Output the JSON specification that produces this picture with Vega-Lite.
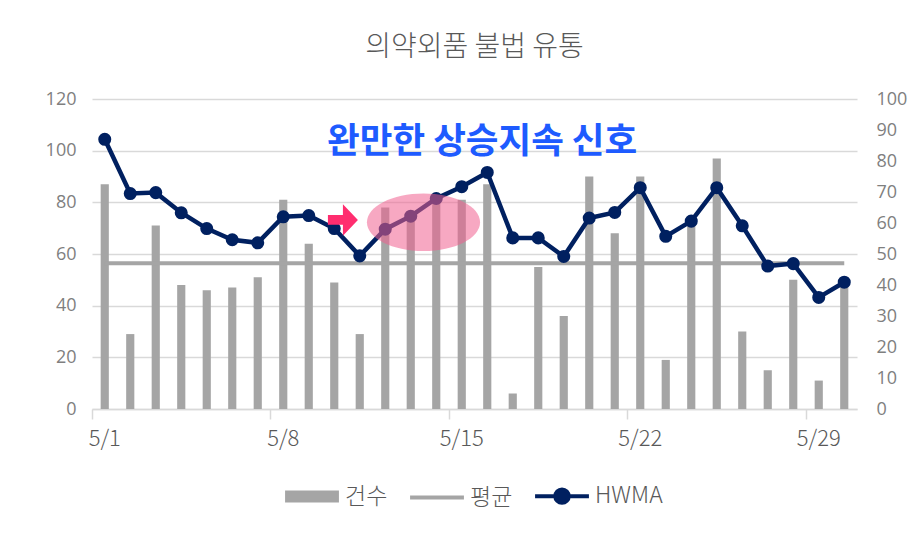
{
  "$schema": "https://vega.github.io/schema/vega-lite/v6.json",
  "width": 765,
  "height": 310,
  "padding": {"left": 45, "top": 34, "right": 10, "bottom": 5},
  "background": "white",
  "config": {
    "view": {"stroke": null},
    "font": "Noto Sans CJK KR",
    "axis": {"labelColor": "#7f7f7f", "labelFont": "Open Sans", "labelFontSize": 18, "title": null}
  },
  "title": {
    "text": "의약외품 불법 유통",
    "font": "Noto Sans CJK KR",
    "fontWeight": 300,
    "fontSize": 28,
    "color": "#595959",
    "offset": 28,
    "anchor": "middle"
  },
  "datasets": {
    "main": [
      {"d": "5/1", "cnt": 87, "avg": 56.4, "hwma": 87.0},
      {"d": "5/2", "cnt": 29, "avg": 56.4, "hwma": 69.5},
      {"d": "5/3", "cnt": 71, "avg": 56.4, "hwma": 69.8},
      {"d": "5/4", "cnt": 48, "avg": 56.4, "hwma": 63.3},
      {"d": "5/5", "cnt": 46, "avg": 56.4, "hwma": 58.2},
      {"d": "5/6", "cnt": 47, "avg": 56.4, "hwma": 54.6},
      {"d": "5/7", "cnt": 51, "avg": 56.4, "hwma": 53.6},
      {"d": "5/8", "cnt": 81, "avg": 56.4, "hwma": 62.0},
      {"d": "5/9", "cnt": 64, "avg": 56.4, "hwma": 62.4},
      {"d": "5/10", "cnt": 49, "avg": 56.4, "hwma": 58.2},
      {"d": "5/11", "cnt": 29, "avg": 56.4, "hwma": 49.4},
      {"d": "5/12", "cnt": 78, "avg": 56.4, "hwma": 58.0},
      {"d": "5/13", "cnt": 76, "avg": 56.4, "hwma": 62.2},
      {"d": "5/14", "cnt": 81, "avg": 56.4, "hwma": 67.9},
      {"d": "5/15", "cnt": 81, "avg": 56.4, "hwma": 71.7},
      {"d": "5/16", "cnt": 87, "avg": 56.4, "hwma": 76.3},
      {"d": "5/17", "cnt": 6, "avg": 56.4, "hwma": 55.2},
      {"d": "5/18", "cnt": 55, "avg": 56.4, "hwma": 55.2},
      {"d": "5/19", "cnt": 36, "avg": 56.4, "hwma": 49.2},
      {"d": "5/20", "cnt": 90, "avg": 56.4, "hwma": 61.6},
      {"d": "5/21", "cnt": 68, "avg": 56.4, "hwma": 63.4},
      {"d": "5/22", "cnt": 90, "avg": 56.4, "hwma": 71.4},
      {"d": "5/23", "cnt": 19, "avg": 56.4, "hwma": 55.7},
      {"d": "5/24", "cnt": 72, "avg": 56.4, "hwma": 60.6},
      {"d": "5/25", "cnt": 97, "avg": 56.4, "hwma": 71.4},
      {"d": "5/26", "cnt": 30, "avg": 56.4, "hwma": 59.1},
      {"d": "5/27", "cnt": 15, "avg": 56.4, "hwma": 46.1},
      {"d": "5/28", "cnt": 50, "avg": 56.4, "hwma": 46.9},
      {"d": "5/29", "cnt": 11, "avg": 56.4, "hwma": 36.0},
      {"d": "5/30", "cnt": 48, "avg": 56.4, "hwma": 40.9}
    ],
    "arrow": [{"d": "5/10", "v": 73.2}],
    "ellipse": [{"d": "5/13", "v": 72.3}],
    "note": [{"d": "5/16", "v": 103.5, "label": "완만한 상승지속 신호"}]
  },
  "encoding": {
    "x": {
      "field": "d",
      "type": "ordinal",
      "sort": null,
      "scale": {
        "domain": ["5/1","5/2","5/3","5/4","5/5","5/6","5/7","5/8","5/9","5/10","5/11","5/12","5/13","5/14","5/15","5/16","5/17","5/18","5/19","5/20","5/21","5/22","5/23","5/24","5/25","5/26","5/27","5/28","5/29","5/30"],
        "paddingInner": 0,
        "paddingOuter": 0
      },
      "axis": {
        "values": ["5/1", "5/8", "5/15", "5/22", "5/29"],
        "labelAngle": 0,
        "labelFont": "Noto Sans CJK KR",
        "labelFontWeight": 300,
        "labelFontSize": 22,
        "labelColor": "#595959",
        "labelPadding": 9,
        "bandPosition": 0,
        "tickSize": 10,
        "tickColor": "#d9d9d9",
        "tickWidth": 1.5,
        "domainColor": "#d9d9d9",
        "domainWidth": 1.5,
        "grid": false
      }
    }
  },
  "layer": [
    {
      "data": {"name": "main"},
      "mark": {"type": "bar", "width": {"band": 0.32}},
      "encoding": {
        "y": {
          "field": "cnt",
          "type": "quantitative",
          "scale": {"domain": [0, 120]},
          "axis": {
            "values": [0, 20, 40, 60, 80, 100, 120],
            "domain": false,
            "ticks": false,
            "labelPadding": 16,
            "grid": true,
            "gridColor": "#d9d9d9",
            "gridWidth": 1.5
          }
        },
        "color": {
          "datum": "건수",
          "type": "nominal",
          "scale": {"domain": ["건수", "평균", "HWMA"], "range": ["#a5a5a5", "#a5a5a5", "#002060"]},
          "legend": {
            "orient": "none",
            "legendX": 191,
            "legendY": 368,
            "direction": "horizontal",
            "title": null,
            "symbolSize": 2900,
            "labelFont": "Noto Sans CJK KR",
            "labelFontWeight": 300,
            "labelFontSize": 23,
            "labelColor": "#595959",
            "labelOffset": 4,
            "columnPadding": 14,
            "encode": {
              "symbols": {
                "update": {
                  "shape": {"signal": "datum.value === '건수' ? 'M -1 -0.22 L 1 -0.22 L 1 0.22 L -1 0.22 Z' : datum.value === '평균' ? 'M -1 0 L 1 0' : 'M -1 0 L 1 0 M -0.25 0 A 0.25 0.25 0 1 0 0.25 0 A 0.25 0.25 0 1 0 -0.25 0 Z'"},
                  "fill": {"signal": "datum.value === '건수' ? '#a5a5a5' : datum.value === '평균' ? 'transparent' : '#002060'"},
                  "stroke": {"signal": "datum.value === '건수' ? 'transparent' : datum.value === '평균' ? '#a5a5a5' : '#002060'"},
                  "strokeWidth": {"value": 4},
                  "opacity": {"value": 1},
                  "fillOpacity": {"value": 1},
                  "strokeOpacity": {"value": 1}
                }
              }
            }
          }
        }
      }
    },
    {
      "data": {"name": "main"},
      "mark": {"type": "line", "color": "#a5a5a5", "strokeWidth": 4},
      "encoding": {
        "y": {"field": "avg", "type": "quantitative", "scale": {"domain": [0, 120]}, "axis": null}
      }
    },
    {
      "data": {"name": "main"},
      "mark": {"type": "line", "color": "#002060", "strokeWidth": 4.5, "point": {"filled": true, "size": 170, "color": "#002060"}},
      "encoding": {
        "y": {
          "field": "hwma",
          "type": "quantitative",
          "scale": {"domain": [0, 100]},
          "axis": {
            "orient": "right",
            "values": [0, 10, 20, 30, 40, 50, 60, 70, 80, 90, 100],
            "domain": false,
            "ticks": false,
            "grid": false,
            "labelPadding": 19
          }
        }
      }
    },
    {
      "data": {"name": "arrow"},
      "mark": {"type": "point", "filled": true, "color": "#ff2d6f", "opacity": 1, "size": 900, "shape": "M -1 -0.32 L 0 -0.32 L 0 -1.05 L 1 0 L 0 1.05 L 0 0.32 L -1 0.32 Z"},
      "encoding": {
        "x": {"field": "d", "type": "ordinal", "sort": null, "bandPosition": 0.84},
        "y": {"field": "v", "type": "quantitative", "scale": {"domain": [0, 120]}, "axis": null}
      }
    },
    {
      "data": {"name": "ellipse"},
      "mark": {"type": "point", "filled": true, "color": "#f06090", "opacity": 0.55, "size": 12800, "shape": "M -1 0 A 1 0.51 0 1 0 1 0 A 1 0.51 0 1 0 -1 0 Z"},
      "encoding": {
        "x": {"field": "d", "type": "ordinal", "sort": null, "bandPosition": 1},
        "y": {"field": "v", "type": "quantitative", "scale": {"domain": [0, 120]}, "axis": null}
      }
    },
    {
      "data": {"name": "note"},
      "mark": {"type": "text", "font": "Noto Sans CJK KR", "fontWeight": "bold", "fontSize": 35.5, "color": "#1e5bff", "align": "center", "baseline": "middle"},
      "encoding": {
        "x": {"field": "d", "type": "ordinal", "sort": null, "bandPosition": 0.3},
        "y": {"field": "v", "type": "quantitative", "scale": {"domain": [0, 120]}, "axis": null},
        "text": {"field": "label"}
      }
    }
  ],
  "resolve": {"scale": {"y": "independent"}}
}
